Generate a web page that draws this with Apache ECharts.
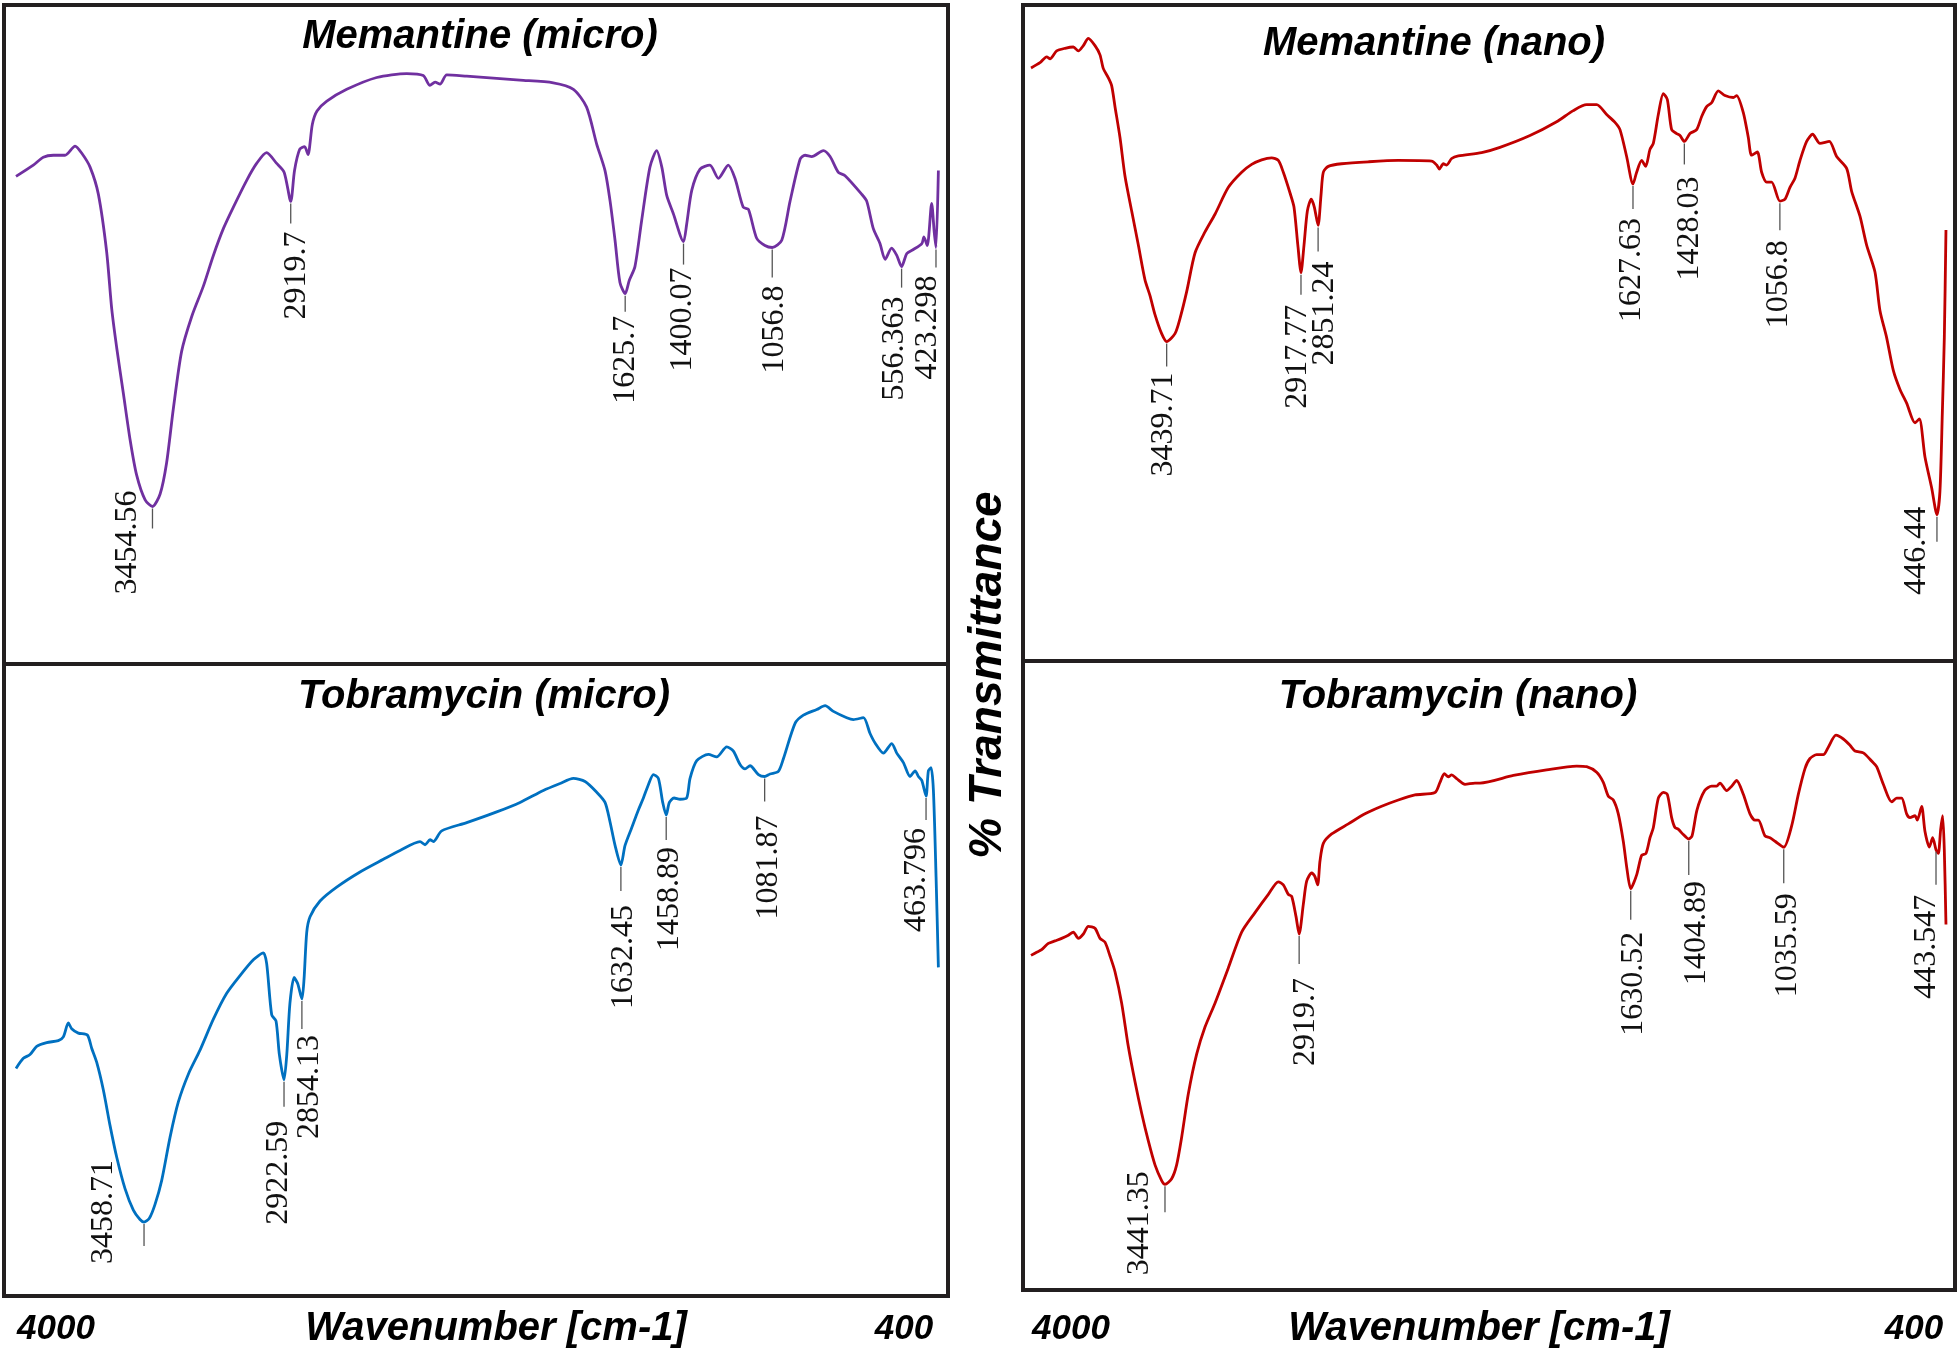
<!DOCTYPE html>
<html>
<head>
<meta charset="utf-8">
<script src="https://cdn.jsdelivr.net/npm/echarts@6/dist/echarts.min.js"></script>
<style>html,body{margin:0;padding:0;background:#fff;}#c{width:1960px;height:1354px;}</style>
</head>
<body>
<div id="c"></div>
<script>
// ---------- DATA (wavenumber cm-1, % transmittance in arbitrary panel units) ----------
const TL_WAVE = [3982.6,3915.6,3877,3838,3793,3754,3728,3696,3664,3632,3612,3593,3567,3541,3516,3483,3454.56,3425,3400,3374,3342,3303,3258,3219,3180,3142,3090,3051,3013,2975,2945,2919.7,2905,2885,2866,2853,2836,2818,2780,2703,2587,2471,2407,2381,2361,2342,2316,2239,2033,1904,1826,1775,1736,1704,1684,1665,1646,1625.7,1610,1588,1562,1530,1504,1484,1465,1440,1400.07,1388,1368,1336,1298,1265,1227,1201,1169,1149,1117,1085,1056.8,1020,988,949,930,904,859,833,801,775,711,691,666,640,620,595,575,556.363,536,511,478,470,457,440,430,423.298,414];
const TL_T = [74.0,75.7,76.9,77.2,77.2,78.6,77.5,75.4,71.3,62.6,53.8,48.0,41.0,34.0,28.7,24.9,23.9,25.8,30.5,38.7,47.4,52.7,57.3,62.0,66.1,69.3,73.4,76.0,77.6,76.0,74.6,70.2,74.9,78.1,78.5,77.3,81.9,83.9,85.4,87.2,89.0,89.6,89.3,87.8,88.3,88.0,89.4,89.2,88.6,88.2,87.2,84.5,78.9,74.9,70.2,64.3,57.9,56.2,58.2,60.3,67.3,75.4,77.9,75.4,71.1,68.4,64.1,66.7,71.9,75.1,75.7,73.7,75.7,73.7,69.3,69.0,64.6,63.5,63.2,64.3,70.2,76.6,77.2,77.0,77.9,77.0,74.6,74.1,71.3,70.2,66.1,63.8,61.4,63.1,62.0,60.3,62.3,62.9,63.8,64.8,63.5,69.9,65.5,63.2,74.9];
const TL_PEAKS = ['3454.56','2919.7','1625.7','1400.07','1056.8','556.363','423.298'];
const TL_PEAK_T = [23.9,70.2,56.2,64.1,63.2,60.3,63.2];

const BL_WAVE = [3949,3920.9,3895.4,3869.9,3831.6,3787,3767.7,3748.6,3735.8,3710.3,3675.8,3659.2,3640.1,3614.5,3589,3563.5,3531.5,3499.6,3474.1,3458.71,3438.3,3416.6,3391,3359.2,3327.3,3289,3244.3,3193.2,3142.1,3091.1,3040,3001.7,2989,2969.8,2953.2,2940.4,2922.59,2912,2900,2884,2870,2854.13,2846,2835.7,2823,2784.7,2720.8,2631.5,2542.2,2478.3,2401.7,2382.5,2363.4,2350.6,2318.7,2222.9,2108,2018.7,1929.3,1865.5,1814.4,1769.7,1725,1693.2,1674,1654.8,1632.45,1616.5,1591,1565.5,1546.3,1527.2,1508,1488.9,1472.3,1458.89,1446.8,1428.9,1405.9,1380.4,1367.6,1342,1297.4,1265.5,1227.1,1201.6,1176.1,1156.9,1137.8,1105.8,1081.87,1061.2,1029.3,1010.1,965.4,933.5,882.3,850.5,818.6,767.5,742,703.7,678.2,659,627.1,595.1,576,550.5,525,505.8,493,480.3,463.796,454.8,444.6,435.6,425.4,416.5];
const BL_T = [36.0,37.6,38.2,39.5,40.1,40.4,41.0,43.2,42.3,41.6,41.3,39.2,37.0,32.6,27.0,22.0,17.0,13.6,12.1,11.7,12.3,14.5,18.3,25.1,30.7,35.1,38.9,43.8,47.9,50.7,53.2,54.3,52.6,44.5,43.5,38.2,34.2,38.2,46.3,50.4,49.4,47.0,50.1,57.5,60.0,62.5,64.7,67.1,69.1,70.5,71.9,71.4,72.2,71.9,73.6,74.9,76.6,78.1,80.0,81.1,81.9,81.4,79.7,78.1,75.0,71.3,68.2,71.3,74.1,76.9,78.8,80.9,82.5,81.9,78.1,76.1,78.1,78.8,78.6,78.8,81.9,84.7,85.7,85.3,86.9,86.2,84.1,83.4,83.9,82.5,82.2,82.6,83.0,85.0,90.6,91.9,92.8,93.4,92.5,91.5,91.2,91.5,89.0,87.5,85.9,87.4,85.9,84.4,82.2,83.1,82.2,81.6,79.1,83.1,83.6,80.0,66.3,52.0];
const BL_PEAKS = ['3458.71','2922.59','2854.13','1632.45','1458.89','1081.87','463.796'];
const BL_PEAK_T = [11.7,34.2,47.0,68.2,76.1,82.2,79.1];

const TR_WAVE = [3966.9,3932,3906,3893,3867.2,3834.8,3802.4,3783,3763.6,3744.1,3718.2,3698.8,3685.8,3666.4,3653.5,3640.5,3621.1,3601.6,3575.7,3549.8,3524,3504.5,3485.1,3459.2,3439.71,3407.4,3388,3362,3329.6,3290.8,3251.9,3200,3148.3,3109.4,3070.6,3031.7,3005.8,2986.4,2960,2945,2930,2917.77,2906,2893,2878,2866,2851.24,2840,2831,2811.5,2759.7,2656.1,2539.5,2410,2390.5,2380.2,2364.7,2351.7,2332.3,2306.4,2215.7,2144.5,2027.9,1924.3,1859.5,1807.7,1768.9,1730,1697.6,1678.2,1652.3,1627.63,1613.4,1594,1578.4,1561.6,1548.6,1529.2,1509.8,1494.2,1477.4,1458,1445,1428.03,1406.2,1380.3,1360.8,1341.4,1322,1296.1,1270.2,1237.8,1224.8,1198.9,1179.5,1166.6,1144.5,1127.7,1108.3,1088.8,1056.8,1037,1017.6,998.2,978.7,952.8,929.5,901,864.7,836.3,797.4,778,745.6,719.7,687.3,667.8,642,616,590.1,564.2,531.8,515,493,467.1,446.44,434.8,425.7,417.8,411.4];
const TR_T = [90.4,91.2,92.1,91.8,93.0,93.4,93.6,93.0,93.8,94.9,93.8,92.4,90.3,88.9,87.7,84.5,79.8,73.9,68.6,63.4,58.1,55.7,52.8,49.9,48.7,49.9,52.2,56.3,62.2,65.4,68.1,72.2,74.5,75.7,76.4,76.7,76.3,74.5,71.3,69.2,63.4,59.2,63.4,68.6,70.4,69.2,66.4,71.0,74.5,75.4,75.8,76.1,76.3,76.2,75.6,75.0,75.8,75.6,76.6,77.0,77.5,78.3,80.1,82.2,83.9,84.8,84.8,83.3,82.1,81.0,76.9,72.7,74.5,76.3,75.4,78.0,78.9,83.3,86.5,85.6,81.0,80.4,80.1,79.2,80.4,81.0,83.0,84.5,85.1,86.9,86.2,85.9,86.2,83.6,79.8,77.1,77.6,74.5,73.0,73.0,70.1,70.4,72.2,73.6,76.3,79.2,80.3,78.9,79.2,76.9,75.1,71.6,67.8,63.4,59.3,53.4,49.3,44.3,41.4,39.3,36.3,36.9,31.1,26.4,22.3,25.9,37.6,49.3,65.7];
const TR_PEAKS = ['3439.71','2917.77','2851.24','1627.63','1428.03','1056.8','446.44'];
const TR_PEAK_T = [48.7,59.2,66.4,72.7,79.2,70.1,22.3];

const BR_WAVE = [3962.3,3940.3,3920.8,3894.9,3869,3843.1,3817.1,3797.7,3778.3,3758.8,3739.4,3713.5,3694,3674.6,3655.1,3635.7,3609.8,3583.9,3557.9,3532,3506.1,3480.2,3454.3,3441.35,3415.4,3396,3376.5,3350.6,3318.2,3285.8,3246.9,3195.1,3143.2,3091.4,3039.5,3000.7,2981.2,2961.8,2948.8,2932,2919.7,2903.5,2890.5,2871.1,2858.1,2847.7,2838.7,2825.7,2793.3,2728.5,2663.7,2598.9,2534.1,2469.3,2391.5,2372.1,2355.3,2339.7,2326.7,2307.3,2274.9,2236,2216.6,2087,1957.4,1840.8,1801.9,1763,1737.1,1717.6,1698.2,1678.8,1659.3,1645,1630.52,1607.5,1588.1,1571.2,1555.6,1542.7,1523.2,1503.8,1488.2,1471.4,1458.4,1447,1426,1413,1404.89,1392,1373,1343,1315.9,1296.4,1283.5,1257.6,1238.1,1218.7,1192.8,1166.8,1147.4,1134.4,1108.5,1089.1,1068,1035.59,1004.8,978.9,953,933.6,907.6,881.7,862.3,832.5,803.9,778,758.6,726.2,693.8,674.4,648.4,616,596.6,577.2,557.7,544.8,525.3,516.2,499.4,486.4,469.4,456.6,443.547,434.6,425.5,417.8,411.3,404.8];
const BR_T = [53.2,53.7,54.1,55.1,55.5,55.9,56.4,56.9,55.9,56.6,57.8,57.5,55.9,55.3,53.1,50.6,45.6,38.7,33.1,28.1,23.7,19.9,17.4,16.8,17.7,19.9,24.3,31.2,37.5,41.8,45.6,51.2,56.9,60.0,62.9,64.9,64.4,62.9,62.6,59.4,56.6,61.3,65.0,66.3,65.7,64.4,68.2,71.0,72.5,74.1,75.7,76.9,77.9,78.7,79.1,80.7,82.1,81.6,81.9,81.3,80.4,80.6,80.6,81.8,82.7,83.3,83.2,82.3,80.7,78.5,77.9,75.7,71.3,66.9,63.8,66.0,69.1,69.4,71.9,73.5,78.2,79.1,78.8,75.1,73.5,73.3,72.4,71.9,71.7,72.2,76.3,79.4,80.1,80.1,80.6,79.4,80.1,81.0,78.8,75.7,74.7,74.7,72.2,71.9,71.3,70.4,73.8,78.8,82.9,84.5,85.1,85.1,86.3,88.2,87.6,86.6,85.7,85.4,84.1,83.2,80.4,77.6,78.2,78.2,75.7,75.1,75.4,74.7,76.9,72.9,70.4,71.9,70.0,69.4,73.2,75.4,70.0,58.1];
const BR_PEAKS = ['3441.35','2919.7','1630.52','1404.89','1035.59','443.547'];
const BR_PEAK_T = [16.8,56.6,63.8,71.7,70.4,70.0];

const TITLES = ['Memantine (micro)','Tobramycin (micro)','Memantine (nano)','Tobramycin (nano)'];
const X_TICK_LABELS = ['4000','400'];
const X_NAME = 'Wavenumber [cm-1]';
const Y_NAME = '% Transmittance';

// ---------- LAYOUT / STYLE ----------
// label layout per peak: [text dx, text top dy, tick length] relative to the peak point (px)
const LAYOUT = {
  TL: [[-25,-16,22],[6,30,22],[0,22,18],[-1,26,23],[2,38,30],[-7,30,21],[-8,28,20]],
  BL: [[-40,-62,24],[-5,41,27],[8,36,30],[3,40,26],[3,32,25],[4,39,25],[-9,32,24]],
  TR: [[-3,31,25],[-3,32,22],[6,36,26],[-1,34,25],[5,35,23],[-1,39,29],[-20,-8,27]],
  BR: [[-25,-13,28],[6,44,30],[3,43,31],[8,42,36],[4,46,36],[-9,45,35]]
};

const PANELS = [
  {key:'TL', grid:{left:4, top:5, width:944, height:659}, min:376.8, max:4029, color:'#7030a0', wave:TL_WAVE, t:TL_T, peaks:TL_PEAKS, peakT:TL_PEAK_T},
  {key:'BL', grid:{left:4, top:664, width:944, height:632}, min:379.7, max:3995, color:'#0070c0', wave:BL_WAVE, t:BL_T, peaks:BL_PEAKS, peakT:BL_PEAK_T},
  {key:'TR', grid:{left:1023, top:5, width:932, height:656}, min:376.3, max:3998, color:'#c00000', wave:TR_WAVE, t:TR_T, peaks:TR_PEAKS, peakT:TR_PEAK_T},
  {key:'BR', grid:{left:1023, top:661, width:932, height:629}, min:369.7, max:3993.4, color:'#c00000', wave:BR_WAVE, t:BR_T, peaks:BR_PEAKS, peakT:BR_PEAK_T}
];

const LABEL_FONT = '32px "Liberation Serif", "Times New Roman", serif';
const BOLD_IT = (s) => 'italic bold ' + s + 'px "Liberation Sans", Arial, sans-serif';

const grids = [], xAxes = [], yAxes = [], series = [];
PANELS.forEach((p, i) => {
  grids.push(Object.assign({show:true, borderColor:'#231f20', borderWidth:4, backgroundColor:'transparent'}, p.grid));
  xAxes.push({type:'value', gridIndex:i, inverse:true, min:p.min, max:p.max, show:false});
  yAxes.push({type:'value', gridIndex:i, min:0, max:100, show:false});
  const n = Math.min(p.wave.length, p.t.length);
  const data = [];
  for (let k = 0; k < n; k++) data.push([p.wave[k], p.t[k]]);
  series.push({type:'line', xAxisIndex:i, yAxisIndex:i, data:data, showSymbol:false, smooth:0.25,
    lineStyle:{color:p.color, width:2.8}, silent:true, animation:false, clip:false});
  const lay = LAYOUT[p.key];
  const pdata = p.peaks.map((s, k) => [parseFloat(s), p.peakT[k]]);
  series.push({type:'custom', xAxisIndex:i, yAxisIndex:i, data:pdata, clip:false, silent:true, animation:false, z:5,
    renderItem: function(params, api){
      const pt = api.coord([api.value(0), api.value(1)]);
      const L = lay[params.dataIndex];
      return {type:'group', children:[
        {type:'line', shape:{x1:pt[0], y1:pt[1]+2, x2:pt[0], y2:pt[1]+L[2]}, style:{stroke:'#555', lineWidth:1.3}},
        {type:'text', x:pt[0]+L[0], y:pt[1]+L[1], rotation:Math.PI/2,
          style:{text:p.peaks[params.dataIndex], font:LABEL_FONT, fill:'#111', align:'right', verticalAlign:'middle', textAlign:'right', textVerticalAlign:'middle'}}
      ]};
    }
  });
});

function txt(x, y, s, size, rot){
  return {type:'text', x:x, y:y, rotation:rot||0, silent:true,
    style:{text:s, font:BOLD_IT(size), fill:'#000', align:'center', verticalAlign:'middle', textAlign:'center', textVerticalAlign:'middle'}};
}
const graphic = [
  txt(480, 37, TITLES[0], 40),
  txt(484, 697, TITLES[1], 40),
  txt(1434, 44, TITLES[2], 40),
  txt(1458, 697, TITLES[3], 40),
  txt(56, 1329, X_TICK_LABELS[0], 35),
  txt(496, 1329, X_NAME, 40),
  txt(904, 1329, X_TICK_LABELS[1], 35),
  txt(1071, 1329, X_TICK_LABELS[0], 35),
  txt(1479, 1329, X_NAME, 40),
  txt(1914, 1329, X_TICK_LABELS[1], 35),
  txt(988, 675, Y_NAME, 46, Math.PI/2)
];

const chart = echarts.init(document.getElementById('c'), null, {renderer:'canvas'});
chart.setOption({backgroundColor:'#fff', animation:false, grid:grids, xAxis:xAxes, yAxis:yAxes, series:series, graphic:graphic});
</script>
</body>
</html>
